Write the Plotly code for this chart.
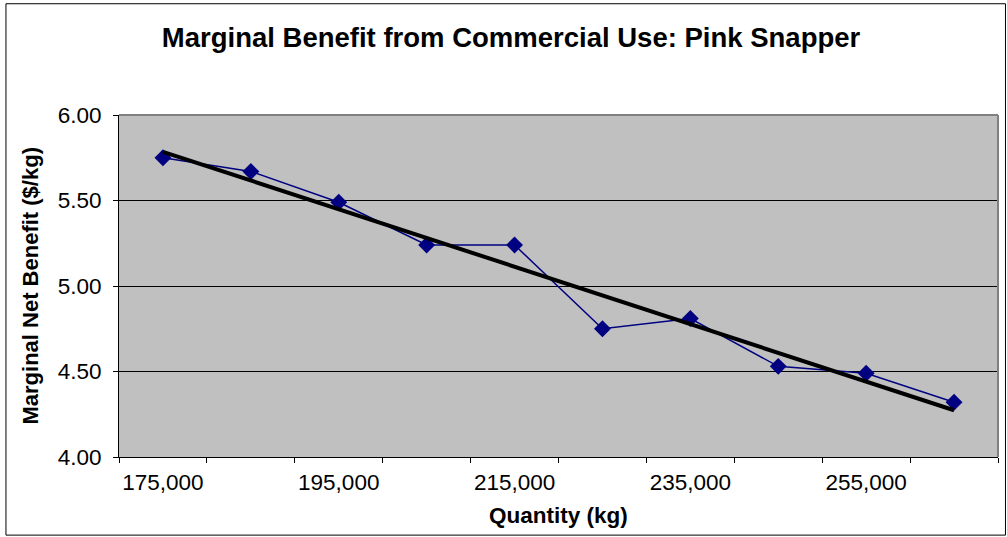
import numpy as np
import plotly.graph_objects as go

# Harvest quantity (kg) and marginal net benefit ($/kg)
quantity = [175000, 185000, 195000, 205000, 215000, 225000, 235000, 245000, 255000, 265000]
benefit = [5.75, 5.67, 5.49, 5.24, 5.24, 4.75, 4.81, 4.53, 4.49, 4.32]

# Category boundaries and labelled ticks on the quantity axis
boundaries = [170000 + 10000 * k for k in range(11)]
label_vals = [175000, 195000, 215000, 235000, 255000]
label_text = ["175,000", "195,000", "215,000", "235,000", "255,000"]
y_ticks = [4.0, 4.5, 5.0, 5.5, 6.0]

# Linear trend over the category index
idx = np.arange(len(benefit))
slope, intercept = np.polyfit(idx, benefit, 1)
trend = [intercept + slope * i for i in idx]

FONT = "Liberation Sans, Arial, sans-serif"

fig = go.Figure()
fig.add_trace(go.Scatter(
    x=quantity, y=benefit, mode="lines+markers",
    line=dict(color="#000080", width=1.5),
    marker=dict(symbol="diamond", size=13, color="#000080"),
    showlegend=False, hoverinfo="skip",
))
fig.add_trace(go.Scatter(
    x=[quantity[0], quantity[-1]], y=[trend[0], trend[-1]], mode="lines",
    line=dict(color="black", width=4),
    showlegend=False, hoverinfo="skip",
))

fig.update_layout(
    width=1007, height=537,
    margin=dict(l=119, r=9, t=115, b=80),
    paper_bgcolor="white", plot_bgcolor="#C0C0C0",
    font=dict(family=FONT, color="black", size=22),
    xaxis=dict(
        range=[170000, 270000], tickvals=label_vals, ticktext=label_text,
        ticks="", showgrid=False, zeroline=False,
        showline=True, linecolor="black", linewidth=1,
        tickfont=dict(size=22.5), ticklabelstandoff=5,
        minor=dict(tickvals=boundaries, ticks="outside", ticklen=5,
                   tickcolor="black", tickwidth=1, showgrid=False),
    ),
    yaxis=dict(
        range=[4.0, 6.0], tickvals=y_ticks,
        ticktext=[f"{v:.2f}" for v in y_ticks],
        ticks="outside", ticklen=5, tickcolor="black",
        showgrid=True, gridcolor="black", gridwidth=1, zeroline=False,
        showline=True, linecolor="black", linewidth=1,
        tickfont=dict(size=22.5), ticklabelstandoff=7,
    ),
    title=dict(
        text="<b>Marginal Benefit from Commercial Use: Pink Snapper</b>",
        x=0.5075, xanchor="center", y=0.931, yanchor="middle",
        yref="container", font=dict(size=27.5, family=FONT),
    ),
    annotations=[
        dict(text="<b>Quantity (kg)</b>", xref="paper", yref="paper",
             x=0.5, y=-0.17, xanchor="center", yanchor="middle",
             showarrow=False, font=dict(size=22.5, family=FONT)),
        dict(text="<b>Marginal Net Benefit ($/kg)</b>", xref="paper", yref="paper",
             x=-0.1018, y=0.5, xanchor="center", yanchor="middle", textangle=-90,
             showarrow=False, font=dict(size=22, family=FONT)),
    ],
    shapes=[
        # outer chart frame
        dict(type="rect", xref="paper", yref="paper",
             x0=-0.1286, x1=1.0085, y0=-0.2284, y1=1.3253,
             line=dict(color="black", width=1), layer="above"),
        # plot-area border on top and right
        dict(type="line", xref="paper", yref="paper", x0=0, x1=1, y0=1, y1=1,
             line=dict(color="#808080", width=2), layer="above"),
        dict(type="line", xref="paper", yref="paper", x0=1, x1=1, y0=0, y1=1,
             line=dict(color="#808080", width=2), layer="above"),
    ],
)

fig.write_html("out.html")
